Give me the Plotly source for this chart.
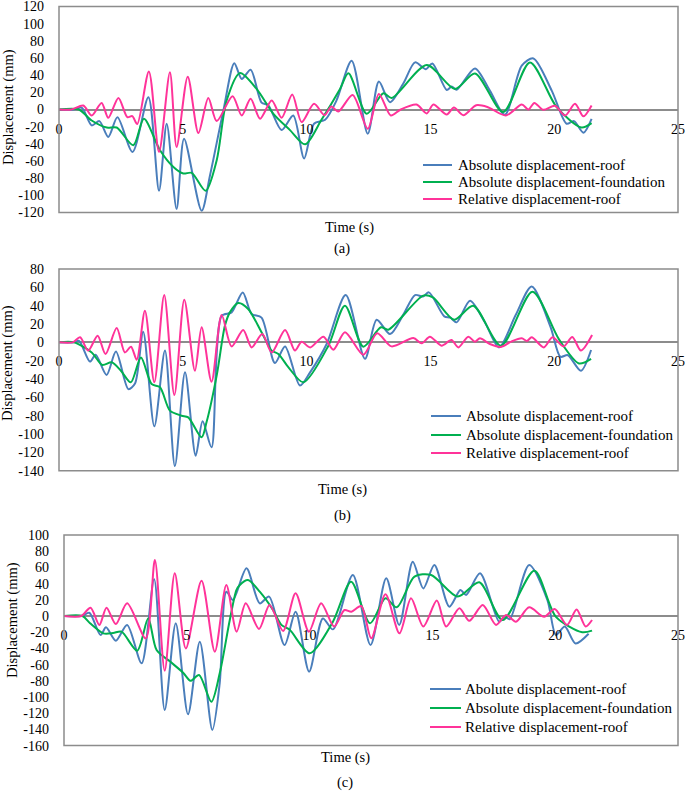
import plotly.graph_objects as go

W, H = 685, 791

# ---------------- Panel (a) ----------------
ta_roof = [0, 0.6, 0.92, 1.32, 1.63, 1.99, 2.36, 2.97, 3.61, 4.04, 4.35, 4.75, 5.05, 5.76, 6.1, 6.64,
           7.08, 7.38, 7.74, 8.18, 8.45, 8.99, 9.46, 9.9, 10.3, 10.75, 11.2, 11.82, 12.47, 12.92, 13.37,
           13.9, 14.38, 14.82, 15.08, 15.66, 15.86, 16.06, 16.8, 17.4, 18.01, 18.69, 19.16, 19.9, 20.5,
           20.8, 21.18, 21.51]
va_roof = [0, 0, 2, -18.5, -13.5, -32, -9, -49.5, 14.3, -94.7, -16.6, -116, -34, -118, -76.5, -1,
           54, 35.6, 46.4, 8, 5, -24, -7, -57, -16.6, -12, 10, 56.8, -28.2, 32.5, 8.5,
           30, 54.9, 47, 53.7, 22.8, 26.7, 23, 47.9, 22, -6.2, 51, 59.5, 22, -16.6,
           -13.5, -27, -10.8]

ta_found = [0, 0.8, 1.32, 1.93, 2.33, 3.0, 3.43, 4.08, 4.62, 5.02, 5.36, 5.92, 6.37, 6.77, 7.31, 7.98,
            8.66, 9.33, 9.94, 10.6, 11.35, 11.69, 12.43, 13.1, 13.44, 14.85, 15.99, 16.8, 17.94, 19.02,
            20.1, 21.1, 21.51]
va_found = [0, 0, -12.8, -21, -21, -41.7, -10.8, -47.5, -67, -74.6, -73.8, -94.7, -59, 10.4, 42.5, 24,
            -5, -24, -40.6, -12, 24, 42.1, -5, 18.9, 13.5, 51.8, 24, 42, -3, 54.9,
            2.7, -21, -15.9]

ta_rel = [0, 0.5, 0.98, 1.32, 1.72, 1.99, 2.4, 2.76, 2.96, 3.16, 3.63, 4.04, 4.48, 4.75, 5.2, 5.63,
          6.03, 6.37, 7.01, 7.38, 7.74, 8.12, 8.59, 8.99, 9.42, 9.8, 10.3, 10.72, 11.0, 11.28, 11.86,
          12.47, 12.92, 13.4, 13.8, 14.44, 14.85, 15.12, 15.66, 15.95, 16.33, 16.85, 17.3, 18.05,
          18.69, 18.96, 19.2, 19.56, 20.03, 20.44, 20.84, 21.18, 21.51]
va_rel = [0, 0, 4.6, -7, 7.7, -9.7, 13.5, -8.9, -7.7, -17, 44.4, -49.5, 43.3, -43.7, 38.3, -27.5,
          13.5, -13.5, 15.5, -7, 12.4, -10.8, 10.4, -9.7, 17.4, -14.7, 6.6, -6.5, 3.5, -2.3, 17,
          -22.4, 18.2, -7, 0, 5.8, -4.6, 5.8, -5.8, 2.3, -6.6, 5, 3, -7,
          5.8, 0, 7.7, -0.4, 4.3, -7, 6.6, -8, 4.6]

# ---------------- Panel (b) ----------------
tb_roof = [0, 0.58, 0.81, 1.25, 1.48, 1.92, 2.3, 2.8, 3.07, 3.4, 3.85, 4.28, 4.68, 5.09, 5.52, 5.8,
           6.16, 6.57, 6.97, 7.42, 7.78, 8.18, 8.72, 9.13, 9.73, 10.14, 10.81, 11.58, 12.36, 12.83,
           13.37, 13.9, 14.38, 14.7, 14.94, 15.56, 15.8, 16.06, 16.6, 17.2, 17.77, 18.45, 19.09,
           19.85, 20.25, 20.55, 21.08, 21.49]
vb_roof = [0, 0, 1.5, -21, -13.5, -35.6, -10, -51, -45, 11.6, -91.6, -9, -135, -32.7, -123.6, -86,
           -114.5, 29, 32.7, 54.5, 31, 27, -22.5, -4.4, -47, -32.7, -1.8, 51.6, -18, 24.7,
           9, 30, 51.6, 50, 54.5, 28.4, 27, 21.8, 45.5, 22, -5.5, 30, 61,
           17, -15.7, -14, -31, -8.4]

tb_found = [0, 0.6, 1.32, 1.75, 2.13, 2.5, 2.9, 3.31, 3.74, 4.08, 4.48, 4.95, 5.22, 5.76, 5.96, 6.37,
            6.7, 6.9, 7.24, 7.64, 8.18, 8.59, 8.86, 9.26, 9.87, 10.88, 11.55, 12.29, 13.0, 13.3, 14.71,
            15.1, 15.96, 16.73, 17.85, 19.12, 20.2, 21.0, 21.49]
vb_found = [0, 0, -11, -24.7, -21.8, -31, -43.6, -16.4, -45.5, -49, -74.5, -80, -81.8, -103.6, -87, -36,
            18, 32.7, 43, 36.4, 11, -9, -12.7, -27, -43.6, -3.6, 40, -4.7, 16.4, 13.8, 51,
            49, 24.7, 40, -3.6, 55.3, 3, -23, -18]

tb_rel = [0, 0.55, 0.85, 1.18, 1.56, 1.88, 2.33, 2.66, 2.91, 3.14, 3.47, 3.85, 4.25, 4.66, 5.06, 5.49,
          5.76, 6.16, 6.57, 6.97, 7.44, 7.78, 8.21, 8.59, 9.13, 9.53, 9.8, 10.14, 10.68, 11.08, 11.55,
          12.29, 12.85, 13.43, 14.31, 14.65, 14.98, 15.45, 15.85, 16.13, 16.53, 16.8, 17.0, 17.4,
          17.85, 18.28, 18.69, 18.9, 19.09, 19.58, 19.93, 20.38, 20.73, 21.08, 21.53]
vb_rel = [0, 0, 5.5, -9, 7.3, -12.7, 15.6, -11, -4.7, -19, 34.5, -43.6, 51.6, -57.5, 46.5, -31,
          16.4, -43, 29.8, -4.4, 13.5, -5.5, 9, -11, 13.5, -9, 0.7, -5.5, 6.2, -8, 11,
          -13.5, 10, -4.4, 4.7, -1, 6.2, -3.6, 2.5, -5.5, 6.2, 0.7, 4.4, -1.8,
          -5, 1, 4.4, 1.5, 5.5, -5.5, 5.5, -4.4, 5.8, -9, 8]

# ---------------- Panel (c) ----------------
tc_roof = [0, 0.72, 1.03, 1.49, 1.71, 2.11, 2.57, 3.16, 3.67, 4.1, 4.55, 5.05, 5.53, 6.04, 6.34, 6.61,
           6.88, 7.43, 7.97, 8.35, 8.98, 9.43, 9.98, 10.54, 10.95, 11.76, 12.48, 13.12, 13.65, 14.2,
           14.63, 15.08, 15.69, 16.14, 16.37, 16.94, 17.72, 17.95, 18.15, 18.94, 19.68, 20.03, 20.39,
           20.83, 21.36]
vc_roof = [0, 0, 4, -23.5, -14, -30.5, -11, -58.4, 45.3, -116, -9, -121.4, -31.7, -140.7, -83, 30,
           19.8, 58.8, 15.6, 23.9, -35.8, 5.3, -68.7, -3, -16.5, 50.6, -35.8, 46.5, -11, 67,
           34, 63, 11.5, 32, 26, 52.7, -7, -1, -4, 63, 20, -23.5, -13,
           -34, -22]

tc_found = [0, 0.75, 1.06, 1.6, 2.0, 2.34, 2.98, 3.43, 3.77, 4.31, 4.85, 5.15, 5.5, 6.0, 6.34, 6.75,
            7.02, 7.15, 7.49, 7.97, 8.51, 8.85, 9.19, 10.0, 10.95, 11.69, 12.46, 13.09, 13.55, 14.27,
            14.95, 16.03, 16.91, 17.86, 19.15, 20.03, 21.1, 21.5]
vc_found = [0, 0, -9, -21.4, -21, -19.3, -42.8, -2.9, -42, -56, -70, -80, -72.8, -105.8, -70.8, -5,
            32, 38, 44.4, 30, 7.4, -11, -17, -46, -7, 42.4, -9, 21.8, 10.7, 48.6,
            50.6, 24, 41.6, -5, 56, -1, -20, -18]

tc_rel = [0, 0.7, 1.08, 1.44, 1.73, 2.11, 2.57, 3.33, 3.7, 4.1, 4.51, 4.96, 5.6, 6.14, 6.61, 7.03,
          7.4, 7.94, 8.37, 8.92, 9.43, 9.97, 10.47, 11.0, 11.42, 11.7, 12.1, 12.51, 13.09, 13.66,
          14.13, 14.63, 15.18, 15.56, 16.1, 16.5, 17.05, 17.59, 18.0, 18.4, 18.94, 19.55, 19.98,
          20.48, 20.87, 21.24, 21.5]
vc_rel = [0, 0, 10.3, -11, 10.3, -10, 15.6, -27.6, 69, -67.5, 52.7, -40, 43.6, -44, 38.3, -19.3,
          15.6, -16, 13.6, -18.5, 28, -19.3, 15.6, -13, 7.4, 5.3, 12.3, -27.6, 26.7, -21.4,
          21.8, -13, 19, -13, 9.5, -6, 13.6, -11, 1.2, -7, 10.7, -1, 8.6,
          -11, 8, -13, -5]

names_ab = ["Absolute displacement-roof", "Absolute displacement-foundation", "Relative displacement-roof"]
names_c = ["Abolute displacement-roof", "Absolute displacement-foundation", "Relative displacement-roof"]
colors = ["#4A7EBB", "#00B050", "#FF3399"]
x_ticks = [0, 5, 10, 15, 20, 25]

FONT = "Liberation Serif, Times New Roman, serif"
GRAY = "#8C8C8C"

# panel geometry (pixels)
panels = [
    dict(sfx="", x0=59, x1=678, ytop=6.5, ybot=212.5, yr=[-120, 120],
         data=[(ta_roof, va_roof), (ta_found, va_found), (ta_rel, va_rel)], names=names_ab,
         leg=dict(l0=423, l1=452, tx=456, rows=[165, 182, 199]),
         ytitle=(9, 107), xtitle=(349, 227), cap=("(a)", 342, 248)),
    dict(sfx="2", x0=59, x1=678, ytop=269, ybot=470.7, yr=[-140, 80],
         data=[(tb_roof, vb_roof), (tb_found, vb_found), (tb_rel, vb_rel)], names=names_ab,
         leg=dict(l0=431, l1=461, tx=464, rows=[416, 435, 453]),
         ytitle=(7, 363), xtitle=(342, 490), cap=("(b)", 342, 515)),
    dict(sfx="3", x0=64, x1=678, ytop=535, ybot=745.6, yr=[-160, 100],
         data=[(tc_roof, vc_roof), (tc_found, vc_found), (tc_rel, vc_rel)], names=names_c,
         leg=dict(l0=430, l1=461, tx=463, rows=[689, 708, 727]),
         ytitle=(12, 620), xtitle=(345, 757), cap=("(c)", 345, 782)),
]

fig = go.Figure()
layout = dict(width=W, height=H, margin=dict(l=0, r=0, t=0, b=0, autoexpand=False),
              paper_bgcolor="white", plot_bgcolor="white",
              font=dict(family=FONT, size=14, color="black"), showlegend=False)
shapes, annotations = [], []


def label(text, x, y, size=14.5, angle=0, xanchor="center"):
    return dict(text=text, x=x / W, y=1 - y / H, xref="paper", yref="paper", showarrow=False,
                xanchor=xanchor, yanchor="middle", textangle=angle,
                font=dict(family=FONT, size=size, color="black"))


for i, p in enumerate(panels):
    s = p["sfx"]
    xa, ya = "x" + s, "y" + s
    for k, (t, v) in enumerate(p["data"]):
        fig.add_trace(go.Scatter(x=t, y=v, mode="lines", name=p["names"][k],
                                 line=dict(color=colors[k], width=2, shape="spline", smoothing=0.8),
                                 xaxis=xa, yaxis=ya))
    yd = [1 - p["ybot"] / H, 1 - p["ytop"] / H]
    ymin, ymax = p["yr"]
    zero_pos = yd[0] + (0 - ymin) / (ymax - ymin) * (yd[1] - yd[0])
    yvals = list(range(ymin, ymax + 1, 20))
    layout["xaxis" + s] = dict(domain=[p["x0"] / W, p["x1"] / W], range=[0, 25], tickvals=x_ticks,
                               ticktext=[str(v) for v in x_ticks],
                               anchor="free", position=zero_pos, showgrid=False, zeroline=False,
                               showline=False, ticks="", ticklabelstandoff=9, automargin=False,
                               ticklabeloverflow="allow",
                               tickfont=dict(family=FONT, size=14, color="black"))
    layout["yaxis" + s] = dict(domain=yd, range=p["yr"], tickvals=yvals,
                               ticktext=[str(v) for v in yvals], anchor=xa, showgrid=False,
                               zeroline=True, zerolinecolor=GRAY, zerolinewidth=1.5,
                               showline=False, ticks="", ticklabelstandoff=14, automargin=False,
                               ticklabeloverflow="allow",
                               tickfont=dict(family=FONT, size=14, color="black"))
    shapes.append(dict(type="rect", xref=xa + " domain", yref=ya + " domain", x0=0, x1=1, y0=0, y1=1,
                       line=dict(color=GRAY, width=1.5), fillcolor="rgba(0,0,0,0)", layer="above"))
    # legend (line sample + label for each series)
    lg = p["leg"]
    for k, row in enumerate(lg["rows"]):
        shapes.append(dict(type="line", xref="paper", yref="paper", x0=lg["l0"] / W, x1=lg["l1"] / W,
                           y0=1 - row / H, y1=1 - row / H, line=dict(color=colors[k], width=2)))
        annotations.append(label(p["names"][k], lg["tx"], row, size=15, xanchor="left"))
    tx, ty = p["ytitle"]
    annotations.append(label("Displacement (mm)", tx, ty, angle=-90))
    tx, ty = p["xtitle"]
    annotations.append(label("Time (s)", tx, ty))
    c, tx, ty = p["cap"]
    annotations.append(label(c, tx, ty))

layout["shapes"] = shapes
layout["annotations"] = annotations
fig.update_layout(**layout)
fig.write_html("out.html", config={"displayModeBar": False},
               post_script="document.body.style.margin='0';document.body.style.overflow='hidden';")
